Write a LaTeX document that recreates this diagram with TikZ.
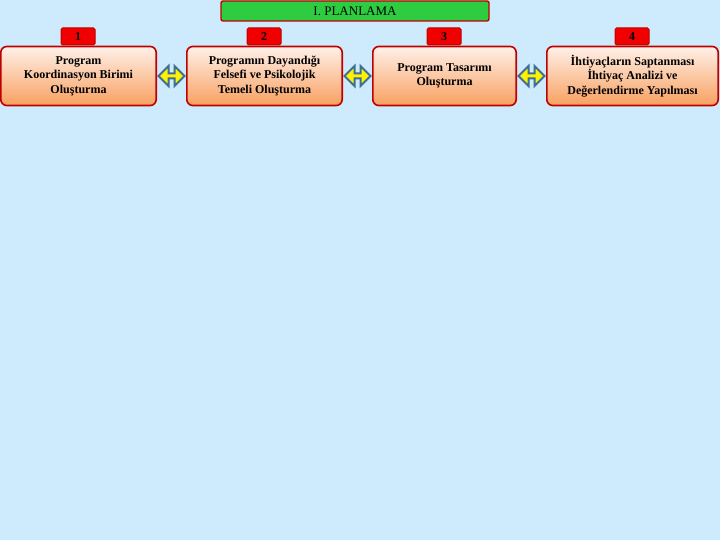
\documentclass[tikz,border=0pt]{standalone}
\usepackage{fontspec}
\setmainfont{Liberation Serif}
\usetikzlibrary{shapes.arrows}
\definecolor{bg}{HTML}{CDEBFC}
\definecolor{bred}{HTML}{C00000}
\definecolor{tabred}{HTML}{F00000}
\definecolor{tgreen}{HTML}{2ECC40}
\definecolor{ptop}{HTML}{FFF0E8}
\definecolor{pbot}{HTML}{F8A060}
\definecolor{arblue}{HTML}{3F6F95}
\begin{document}
\begin{tikzpicture}[x=1pt,y=-1pt,
  box/.style={draw=bred,line width=1.6pt,rounded corners=6pt,top color=ptop,bottom color=pbot,
    align=center,font=\fontsize{12}{14.5}\selectfont\bfseries,inner sep=0pt},
  tab/.style={draw=bred,fill=tabred,line width=1pt,rounded corners=1.5pt,font=\fontsize{12}{12}\selectfont\bfseries,inner sep=0pt},
  darr/.style={double arrow,draw=arblue,fill=yellow,line width=2pt,minimum width=20pt,minimum height=26pt,double arrow head extend=3pt,inner sep=0pt}]
\fill[bg] (0,0) rectangle (720,540);
\useasboundingbox (0,0) rectangle (720,540);
\node[draw=bred,fill=tgreen,line width=1.4pt,rounded corners=2pt,minimum width=268pt,minimum height=20pt,inner sep=0pt,font=\fontsize{13}{13}\selectfont] (title) at (355,11) {I. PLANLAMA};
\foreach \n/\xa/\xb/\t in {1/0/157/{Program\\Koordinasyon Birimi\\Oluşturma},
  2/186/343/{Programın Dayandığı\\Felsefi ve Psikolojik\\Temeli Oluşturma},
  3/372/517/{Program Tasarımı\\Oluşturma},
  4/546/719/{İhtiyaçların Saptanması\\İhtiyaç Analizi ve\\Değerlendirme Yapılması}}{
  \node[box,minimum width={\xb-\xa-1.6},minimum height=59pt] (b\n) at ({(\xa+\xb)/2},76) {\t};
  \node[tab,minimum width=34pt,minimum height=17pt,anchor=south] (t\n) at ({(\xa+\xb)/2-0.5},45.5) {\n};
}
\foreach \a/\b in {1/2,2/3,3/4}{
  \path (b\a.east) -- (b\b.west) node[midway,darr] (a\a\b) {};
}
\end{tikzpicture}
\end{document}
